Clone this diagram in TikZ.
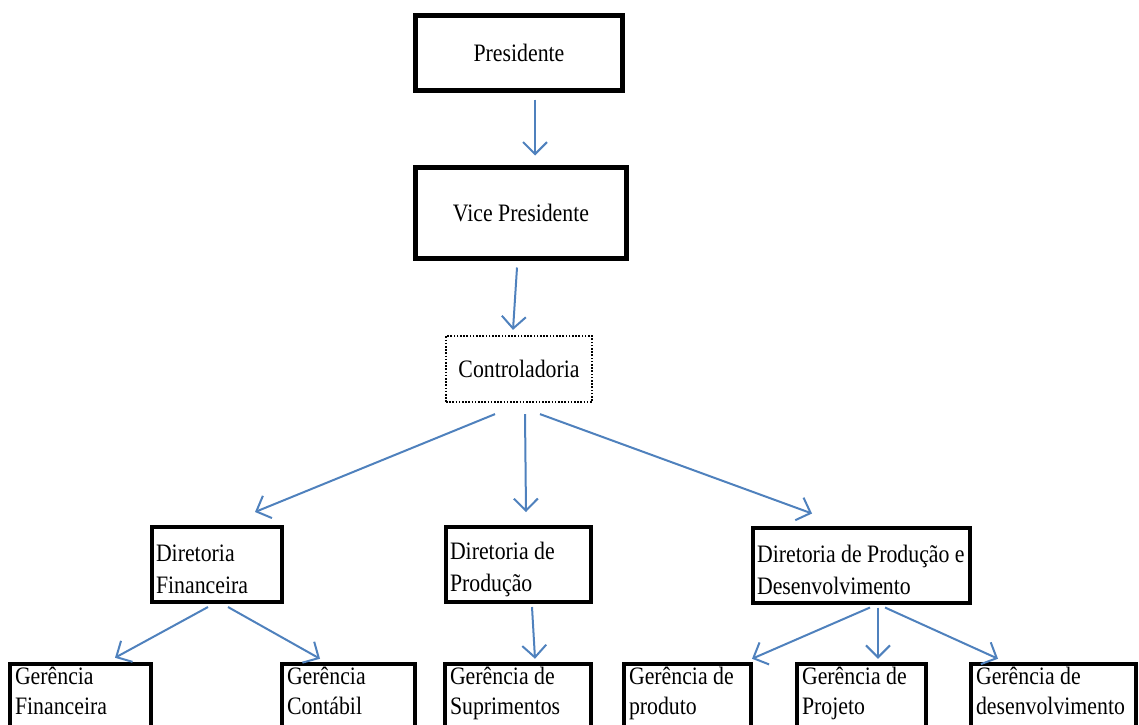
\documentclass[tikz,border=0pt]{standalone}
\usepackage{fontspec}
\setmainfont{Liberation Serif}
\usetikzlibrary{arrows.meta,calc}
\definecolor{arrblue}{HTML}{4F81BD}
\tikzset{
  txt/.style={font=\fontsize{21.8}{27.8}\selectfont},
  btxt/.style={font=\fontsize{21.8}{26}\selectfont},
  topbox/.style={draw, line width=5pt, txt, inner sep=0pt},
  dotbox/.style={draw, line width=2.2pt, dash pattern=on 1.6pt off 1.6pt, txt, inner sep=0pt},
  lbox/.style={draw, line width=4pt, txt, inner xsep=4pt, inner ysep=0pt},
  bbox/.style={draw, line width=4.5pt, btxt, inner xsep=5pt, inner ysep=3pt},
  arr/.style={draw=arrblue, line width=2pt, -{Straight Barb[length=12pt,width=24pt]}},
}
\newcommand{\vst}[1]{\scalebox{1}[1.15]{#1}}
\newcommand{\tx}[2]{\scalebox{1}[1.15]{\parbox[t]{#1}{\raggedright #2}}}
\newcommand{\dtext}[2]{\parbox[c][75pt][c]{#1}{\vspace*{10pt}\tx{#1}{#2}}}
\newcommand{\btext}[2]{\parbox[c][70pt][t]{#1}{\tx{#1}{#2}}}
\begin{document}
\begin{tikzpicture}[x=1pt,y=-1pt]
\useasboundingbox (0,0) rectangle (1139,724);
\clip (0,0) rectangle (1139,724);
% top
\node[topbox, minimum width=207pt, minimum height=75pt] (pres) at (519,53) {\vst{Presidente}};
\node[topbox, minimum width=211pt, minimum height=91pt] (vice) at (521,213) {\vst{Vice Presidente}};
\node[dotbox, minimum width=146pt, minimum height=66pt] (ctrl) at (519,369) {\vst{Controladoria}};
% directors
\node[lbox] (df) at (217,564.5) {\dtext{122pt}{Diretoria\\Financeira}};
\node[lbox] (dp) at (518.5,564.5) {\dtext{137pt}{Diretoria de\\Produção}};
\node[lbox] (dpd) at (861.5,565) {\dtext{209pt}{Diretoria de Produção e\\Desenvolvimento}};
% managers
\node[bbox] (gf) at (80.5,702) {\btext{131pt}{Gerência\\Financeira}};
\node[bbox] (gc) at (348.5,702) {\btext{123pt}{Gerência\\Contábil}};
\node[bbox] (gs) at (518,702) {\btext{136pt}{Gerência de\\Suprimentos}};
\node[bbox] (gp) at (687.5,702) {\btext{117pt}{Gerência de\\produto}};
\node[bbox] (gpj) at (861.5,702) {\btext{119pt}{Gerência de\\Projeto}};
\node[bbox] (gd) at (1053.5,702) {\btext{155pt}{Gerência de\\desenvolvimento}};
% connectors
\draw[arr] ($(pres.south)+(16,6.5)$) -- ($(vice.north)+(14,-9.5)$);
\draw[arr] ($(vice.south)+(-4,6.5)$) -- ($(ctrl.north)+(-6,-5)$);
\draw[arr] ($(ctrl.south)+(-24,11)$) -- ($(df.north)+(38,-13)$);
\draw[arr] ($(ctrl.south)+(6,11)$) -- ($(dp.north)+(7.5,-13)$);
\draw[arr] ($(ctrl.south)+(21,11)$) -- ($(dpd.north)+(-49.5,-12)$);
\draw[arr] ($(df.south)+(-9,3)$) -- ($(gf.north)+(34.5,-4)$);
\draw[arr] ($(df.south)+(11,3)$) -- ($(gc.north)+(-28.5,-3)$);
\draw[arr] ($(dp.south)+(13.5,3)$) -- ($(gs.north)+(17,-3)$);
\draw[arr] ($(dpd.south)+(8.5,3)$) -- ($(gp.north)+(64.5,-3)$);
\draw[arr] ($(dpd.south)+(16.5,3)$) -- ($(gpj.north)+(16.5,-3)$);
\draw[arr] ($(dpd.south)+(23.5,3)$) -- ($(gd.north)+(-55.5,-3)$);
\end{tikzpicture}
\end{document}
